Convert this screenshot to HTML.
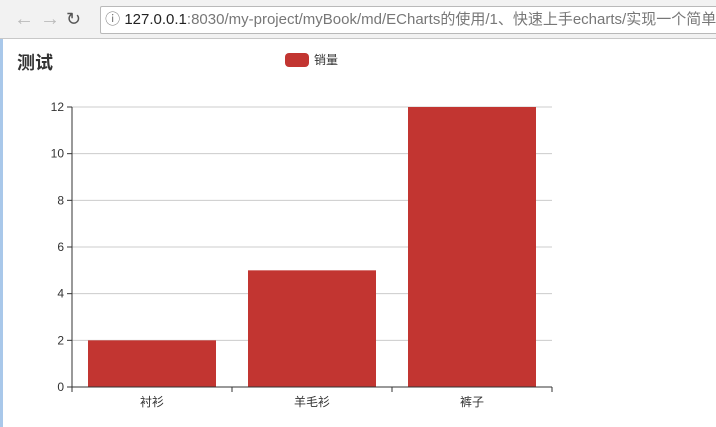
<!DOCTYPE html>
<html><head><meta charset="utf-8"><style>
body{margin:0;width:716px;height:427px;overflow:hidden;background:#fff;font-family:"Liberation Sans","Noto Sans CJK SC",sans-serif;position:relative}
#chrome{position:absolute;left:0;top:0;width:716px;height:38px;background:#f2f2f2;border-bottom:1px solid #c8c8c8}
#addr{position:absolute;left:73px;top:6px;width:650px;height:26px;background:#fff;border:1px solid #b9b9b9;border-radius:2px;font-size:15px;line-height:26px;color:#777;white-space:nowrap;overflow:hidden}
#addr b{font-weight:normal;color:#222}
.nav{position:absolute;top:8px;font-size:20px;color:#bbb}
#edge{position:absolute;left:0;top:39px;width:3px;height:388px;background:#a9c8ea}
</style></head><body>
<div id="chrome">
<span class="nav" style="left:14px">←</span>
<span class="nav" style="left:40px">→</span>
<span class="nav" style="left:66px;color:#555;font-size:18px;top:9px">↻</span>
<div id="addr" style="left:100px;width:620px">&nbsp;ⓘ <b>127.0.0.1</b>:8030/my-project/myBook/md/ECharts的使用/1、快速上手echarts/实现一个简单图</div>
</div>
<div id="edge"></div>
<svg id="chart" width="716" height="427" style="position:absolute;left:0;top:0"></svg>
<script>
const categories=["衬衫","羊毛衫","裤子"];
const values=[2,5,12];
const yTicks=[0,2,4,6,8,10,12];
const svg=document.getElementById('chart');
const NS='http://www.w3.org/2000/svg';
const x0=72,x1=552,y0=387,y1=107,yMax=12;
const ys=v=>y0-(y0-y1)*v/yMax;
const band=(x1-x0)/categories.length;
function mk(t,a){const e=document.createElementNS(NS,t);for(const k in a)e.setAttribute(k,a[k]);svg.appendChild(e);return e;}
let t=mk('text',{x:17,y:69,'font-size':18,'font-weight':'bold',fill:'#333'});t.textContent='测试';


let lr=mk('rect',{x:285,y:53,width:24,height:14,rx:4,fill:'#c23531'});


let lt=mk('text',{x:314,y:64,'font-size':12,fill:'#333'});lt.textContent='销量';


yTicks.forEach(v=>{const y=ys(v);
 if(v>0){const g=mk('line',{x1:x0,x2:x1,y1:y,y2:y,stroke:'#ccc'});}
 const tk=mk('line',{x1:x0-5,x2:x0,y1:y,y2:y,stroke:'#333'});
 const l=mk('text',{x:x0-8,y:y+4,'font-size':12,fill:'#333','text-anchor':'end'});l.textContent=v;
 
 
});
categories.forEach((c,i)=>{
 const bx=x0+band*i+band*0.1,bw=band*0.8;
 const r=mk('rect',{x:bx,y:ys(values[i]),width:bw,height:y0-ys(values[i]),fill:'#c23531'});
 
 
 const l=mk('text',{x:x0+band*(i+0.5),y:406,'font-size':12,fill:'#333','text-anchor':'middle'});l.textContent=c;
 
 
});
for(let i=0;i<=categories.length;i++){const x=x0+band*i;const tk=mk('line',{x1:x,x2:x,y1:y0,y2:y0+5,stroke:'#333'});}
const ya=mk('line',{x1:x0,x2:x0,y1:y1,y2:y0,stroke:'#333'});
const xa=mk('line',{x1:x0,x2:x1,y1:y0,y2:y0,stroke:'#333'});
</script>
</body></html>
